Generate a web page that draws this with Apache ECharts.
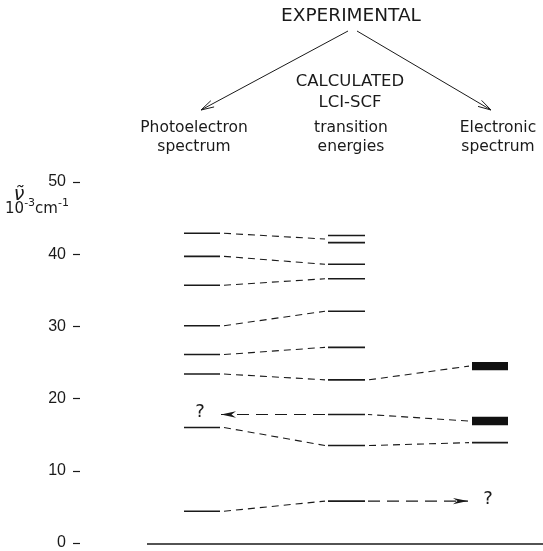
<!DOCTYPE html>
<html>
<head>
<meta charset="utf-8">
<script src="https://cdn.jsdelivr.net/npm/echarts@6/dist/echarts.min.js"></script>
<style>
html,body{margin:0;padding:0;background:#fff;}
#chart{width:543px;height:551px;}
</style>
</head>
<body>
<div id="chart"></div>
<script>
// ---- data (10^-3 cm^-1) ----
const columnLabels = ['Photoelectron\nspectrum', 'transition\nenergies', 'Electronic\nspectrum'];
const photoelectronLevels = [42.9, 39.7, 35.7, 30.1, 26.1, 23.4, 16.0, 4.4];
const calculatedLevels = [42.6, 41.6, 38.6, 36.6, 32.1, 27.1, 22.6, 17.8, 13.5, 5.8];
const electronicBands = [24.5, 16.9];
const electronicLevels = [13.9];
const peToCalc = [[42.9, 42.1], [39.7, 38.6], [35.7, 36.6], [30.1, 32.1], [26.1, 27.1], [23.4, 22.6], [16.0, 13.5], [4.4, 5.8]];
const calcToElec = [[22.6, 24.5], [13.5, 13.9]];
const elecToCalc = [[16.9, 17.8]];
const arrowToPhotoelectron = [17.8];
const arrowToElectronic = [5.8];
const yTicks = [0, 10, 20, 30, 40, 50];

// ---- layout (x in axis units) ----
const COL_PE = [184, 220], COL_CALC = [328, 365], COL_EL = [472, 508];
const BASELINE = [147, 543];
const BAND_H = 1.15;
const FONT = '"DejaVu Sans", sans-serif';
const INK = '#1a1a1a';

const levelData = [];
photoelectronLevels.forEach(v => levelData.push([COL_PE[0], COL_PE[1], v]));
calculatedLevels.forEach(v => levelData.push([COL_CALC[0], COL_CALC[1], v]));
electronicLevels.forEach(v => levelData.push([COL_EL[0], COL_EL[1], v]));

const connData = [];
peToCalc.forEach(p => connData.push([COL_PE[1] + 4, p[0], COL_CALC[0] - 3, p[1]]));
calcToElec.forEach(p => connData.push([COL_CALC[1] + 4, p[0], COL_EL[0] - 3, p[1]]));
elecToCalc.forEach(p => connData.push([COL_EL[0] - 4, p[0], COL_CALC[1] + 3, p[1]]));

const arrowData = [];
arrowToPhotoelectron.forEach(v => arrowData.push([COL_CALC[0] - 3, 221, v]));
arrowToElectronic.forEach(v => arrowData.push([COL_CALC[1] + 3, 468, v]));

const qData = [];
arrowToPhotoelectron.forEach(v => qData.push([200, v]));
arrowToElectronic.forEach(v => qData.push([488, v]));

function headPts(x1, y1, x2, y2, len, half) {
  const dx = x2 - x1, dy = y2 - y1, L = Math.sqrt(dx * dx + dy * dy);
  const ux = dx / L, uy = dy / L, bx = x2 - ux * len, by = y2 - uy * len;
  return [[bx - uy * half, by + ux * half], [x2, y2], [bx + uy * half, by - ux * half]];
}

const TOP_ARROWS = [[348, 31, 201, 110], [357, 31, 491, 110]];
const graphics = [];
TOP_ARROWS.forEach(a => {
  graphics.push({type: 'line', shape: {x1: a[0], y1: a[1], x2: a[2], y2: a[3]}, style: {stroke: INK, lineWidth: 1}});
  graphics.push({type: 'polyline', shape: {points: headPts(a[0], a[1], a[2], a[3], 13, 3.5)}, style: {stroke: INK, lineWidth: 1, fill: null}});
});
function txt(t, x, y, size) {
  return {type: 'text', x: x, y: y, style: {text: t, fill: INK, font: size + 'px ' + FONT, fontSize: size, fontFamily: FONT,
    textAlign: 'center', textVerticalAlign: 'middle', align: 'center', verticalAlign: 'middle', lineHeight: 19}};
}
graphics.push(txt('EXPERIMENTAL', 351, 16, 18.5));
graphics.push(txt('CALCULATED', 350, 82, 16.5));
graphics.push(txt('LCI-SCF', 350, 103, 16.5));
graphics.push(txt(columnLabels[0], 194, 137, 15.5));
graphics.push(txt(columnLabels[1], 351, 137, 15.5));
graphics.push(txt(columnLabels[2], 498, 137, 15.5));
graphics.push({type: 'text', x: 19, y: 195, style: {text: '\u03BD\u0303', fill: INK, font: 'italic 19px ' + FONT,
  align: 'center', verticalAlign: 'middle'}});
graphics.push({type: 'text', x: 37, y: 209, style: {
  text: '10{s|-3}cm{s|-1}', fill: INK, font: '15px ' + FONT, fontSize: 15, fontFamily: FONT,
  textAlign: 'center', textVerticalAlign: 'middle', align: 'center', verticalAlign: 'middle', lineHeight: 22,
  rich: {s: {fontSize: 11, fontFamily: FONT, fill: INK, verticalAlign: 'top', lineHeight: 22, padding: [0, 0, 6, 0]}}
}});

const chart = echarts.init(document.getElementById('chart'), null, {renderer: 'canvas'});
chart.setOption({
  animation: false,
  backgroundColor: '#fff',
  grid: {left: 80, right: 0, top: 182, bottom: 7},
  xAxis: {type: 'value', min: 80, max: 543, show: false},
  yAxis: {
    type: 'value', min: yTicks[0], max: yTicks[yTicks.length - 1], interval: 10,
    axisLine: {show: false},
    axisTick: {show: true, length: 7, lineStyle: {color: INK, width: 1.2}},
    splitLine: {show: false},
    axisLabel: {margin: 14, color: INK, fontSize: 16, fontFamily: '"Liberation Sans", Arial, sans-serif'}
  },
  graphic: graphics,
  series: [
    {
      type: 'custom', name: 'baseline', silent: true,
      data: [[BASELINE[0], BASELINE[1], yTicks[0]]],
      renderItem: (p, api) => {
        const a = api.coord([api.value(0), api.value(2)]), b = api.coord([api.value(1), api.value(2)]);
        return {type: 'line', shape: {x1: a[0], y1: a[1] + 1, x2: b[0], y2: b[1] + 1}, style: {stroke: INK, lineWidth: 1.6}};
      }
    },
    {
      type: 'custom', name: 'levels', silent: true, data: levelData,
      renderItem: (p, api) => {
        const a = api.coord([api.value(0), api.value(2)]), b = api.coord([api.value(1), api.value(2)]);
        return {type: 'line', shape: {x1: a[0], y1: a[1], x2: b[0], y2: b[1]}, style: {stroke: INK, lineWidth: 1.6}};
      }
    },
    {
      type: 'custom', name: 'bands', silent: true,
      data: electronicBands.map(v => [COL_EL[0], COL_EL[1], v]),
      renderItem: (p, api) => {
        const a = api.coord([api.value(0), api.value(2)]), b = api.coord([api.value(1), api.value(2)]);
        const h = api.size([0, BAND_H])[1];
        return {type: 'rect', shape: {x: a[0], y: a[1] - h / 2, width: b[0] - a[0], height: h}, style: {fill: '#111'}};
      }
    },
    {
      type: 'custom', name: 'connectors', silent: true, data: connData,
      renderItem: (p, api) => {
        const a = api.coord([api.value(0), api.value(1)]), b = api.coord([api.value(2), api.value(3)]);
        return {type: 'line', shape: {x1: a[0], y1: a[1], x2: b[0], y2: b[1]}, style: {stroke: INK, lineWidth: 1.1, lineDash: [7, 5]}};
      }
    },
    {
      type: 'custom', name: 'arrows', silent: true, data: arrowData,
      renderItem: (p, api) => {
        const a = api.coord([api.value(0), api.value(2)]), b = api.coord([api.value(1), api.value(2)]);
        const pts = headPts(a[0], a[1], b[0], b[1], 15, 3.2);
        return {type: 'group', children: [
          {type: 'line', shape: {x1: a[0], y1: a[1], x2: b[0], y2: b[1]}, style: {stroke: INK, lineWidth: 1.1, lineDash: [12, 7]}},
          {type: 'polygon', shape: {points: [pts[0], pts[1], pts[2], [pts[1][0] - (pts[1][0] - (pts[0][0] + pts[2][0]) / 2) * 0.7, pts[1][1]]]}, style: {fill: INK}}
        ]};
      }
    },
    {
      type: 'custom', name: 'unassigned', silent: true, data: qData,
      renderItem: (p, api) => {
        const a = api.coord([api.value(0), api.value(1)]);
        return {type: 'text', x: a[0], y: a[1] - 2, style: {text: '?', fill: INK, font: '18px ' + FONT, align: 'center', verticalAlign: 'middle'}};
      }
    }
  ]
});
</script>
</body>
</html>
